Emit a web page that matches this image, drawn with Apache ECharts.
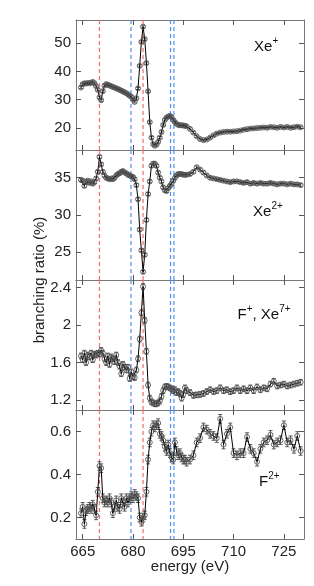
<!DOCTYPE html>
<html>
<head>
<meta charset="utf-8">
<script src="https://cdn.jsdelivr.net/npm/echarts@6/dist/echarts.min.js"></script>
<style>
html,body{margin:0;padding:0;background:#fff;}
#chart{width:314px;height:586px;}
</style>
</head>
<body>
<div id="chart"></div>
<script>
const energy = [664.5,665,665.5,666,666.5,667,667.5,668,668.5,669,669.5,670,670.5,671,671.5,672,672.5,673,673.5,674,674.5,675,675.5,676,676.5,677,677.5,678,678.5,679,679.5,680,680.5,681,681.5,682,682.5,683,683.5,684,684.5,685,685.5,686,686.5,687,687.5,688,688.5,689,689.5,690,690.5,691,691.5,692,692.5,693,693.5,694,694.5,695,695.5,696,
697,698,699,700,701,702,703,704,705,706,707,708,709,710,711,712,713,714,715,716,717,718,719,720,721,722,723,724,725,726,727,728,729,730];

const xePlus = [34.3,35.5,35.8,35.7,35.9,35.8,36.0,36.3,35.8,34.8,33.5,30.8,29.8,33.0,35.0,35.5,35.3,35.0,34.8,34.5,34.3,34.0,33.8,33.5,33.2,32.9,32.6,32.3,31.9,31.4,31.0,30.0,29.2,30.5,34.0,42.0,50.5,55.9,51.5,43.0,33.0,22.0,16.5,14.2,13.6,14.0,15.0,16.5,18.5,21.0,22.8,23.6,24.0,24.2,23.8,22.8,22.0,21.4,21.0,20.9,20.9,20.8,20.7,20.5,
19.6,18.3,17.0,16.0,15.6,15.8,16.5,17.3,17.9,18.3,18.5,18.6,18.6,18.7,18.8,19.0,19.3,19.5,19.7,19.8,19.9,20.0,20.1,20.0,20.3,20.2,20.0,20.3,20.1,20.3,20.0,20.2,20.4,20.2];

const xe2Plus = [34.7,34.6,33.9,34.4,34.6,34.3,34.5,34.2,34.4,34.9,35.8,37.8,36.8,35.8,35.3,35.0,34.9,34.8,34.9,34.8,35.0,35.3,35.5,35.6,35.8,35.9,35.7,35.6,35.4,35.3,35.2,35.1,34.8,34.0,32.1,28.0,25.2,22.3,24.6,29.3,32.8,34.5,36.6,36.9,36.9,36.6,35.7,35.0,34.5,33.7,33.3,33.2,33.6,33.9,34.2,34.6,35.0,35.3,35.5,35.5,35.5,35.4,35.4,35.4,
35.5,35.8,36.4,36.1,35.7,35.3,35.0,34.9,34.8,34.7,34.6,34.5,34.4,34.5,34.5,34.4,34.3,34.4,34.2,34.3,34.2,34.3,34.2,34.2,34.3,34.2,34.1,34.2,34.2,34.1,34.2,34.1,34.1,34.0];

const fPlusXe7Plus = [1.67,1.63,1.70,1.60,1.68,1.66,1.70,1.63,1.69,1.68,1.70,1.69,1.73,1.70,1.64,1.60,1.67,1.58,1.66,1.64,1.61,1.68,1.60,1.56,1.48,1.58,1.55,1.52,1.55,1.43,1.50,1.45,1.44,1.52,1.64,1.85,2.13,2.41,2.05,1.72,1.36,1.22,1.18,1.17,1.16,1.16,1.17,1.19,1.24,1.30,1.34,1.345,1.34,1.33,1.32,1.30,1.31,1.28,1.29,1.27,1.22,1.26,1.33,1.30,
1.28,1.25,1.255,1.26,1.27,1.29,1.31,1.29,1.30,1.33,1.30,1.31,1.29,1.30,1.33,1.30,1.32,1.30,1.33,1.30,1.34,1.31,1.33,1.32,1.37,1.40,1.35,1.36,1.37,1.35,1.36,1.37,1.38,1.39];

const f2Plus = [0.22,0.25,0.17,0.23,0.24,0.25,0.24,0.26,0.24,0.21,0.32,0.44,0.43,0.29,0.27,0.28,0.27,0.29,0.27,0.22,0.25,0.28,0.25,0.24,0.29,0.27,0.25,0.29,0.27,0.29,0.30,0.29,0.31,0.30,0.29,0.20,0.18,0.20,0.21,0.32,0.47,0.55,0.60,0.63,0.62,0.63,0.64,0.59,0.58,0.56,0.53,0.51,0.54,0.50,0.48,0.47,0.55,0.51,0.49,0.50,0.48,0.47,0.47,0.46,
0.47,0.49,0.55,0.57,0.62,0.61,0.59,0.58,0.57,0.66,0.54,0.59,0.62,0.50,0.49,0.50,0.50,0.575,0.52,0.50,0.46,0.52,0.55,0.56,0.585,0.54,0.55,0.56,0.63,0.55,0.56,0.52,0.58,0.51];

const errXePlus = 0.4, errXe2Plus = 0.2, errFPlus = 0.03, errF2Plus = 0.02;

const xTicks = [665, 680, 695, 710, 725];
const yTicksXePlus = [20, 30, 40, 50];
const yTicksXe2Plus = [25, 30, 35];
const yTicksFPlus = [1.2, 1.6, 2, 2.4];
const yTicksF2Plus = [0.2, 0.4, 0.6];

const redLines = [670.0, 683.0];
const blueLines = [679.4, 691.2, 692.2];

const panels = [
  {vals: xePlus, err: errXePlus, ticks: yTicksXePlus, min: 12.1, max: 58.3, top: 20, height: 130},
  {vals: xe2Plus, err: errXe2Plus, ticks: yTicksXe2Plus, min: 21.2, max: 38.74, top: 150, height: 130},
  {vals: fPlusXe7Plus, err: errFPlus, ticks: yTicksFPlus, min: 1.094, max: 2.48, top: 280, height: 130},
  {vals: f2Plus, err: errF2Plus, ticks: yTicksF2Plus, min: 0.1, max: 0.701, top: 410, height: 129}
];

const FONT = '"Liberation Sans", Arial, Helvetica, sans-serif';
const axisLineStyle = {color: '#777', width: 1};
const tickStyle = {color: '#555', width: 1};

function vlineSeries(i, values, color) {
  return {
    type: 'custom', xAxisIndex: i * 2, yAxisIndex: i * 2, silent: true, z: 2, clip: true,
    data: values.map(v => [v]),
    renderItem: function (params, api) {
      const cs = params.coordSys;
      const x = api.coord([api.value(0), panels[i].min])[0];
      return {type: 'line', shape: {x1: x, y1: cs.y, x2: x, y2: cs.y + cs.height},
        style: {stroke: color, lineWidth: 1.2, lineDash: [4, 3]}};
    }
  };
}

const grid = [], xAxis = [], yAxis = [], series = [];
panels.forEach((p, i) => {
  grid.push({left: 76, right: 10, top: p.top, height: p.height});
  xAxis.push({gridIndex: i, type: 'value', min: 663, max: 731, position: 'bottom',
    axisLine: {show: true, onZero: false, lineStyle: axisLineStyle},
    axisTick: {show: true, inside: true, length: 5, customValues: xTicks, lineStyle: tickStyle},
    axisLabel: {show: i === 3, customValues: xTicks, fontSize: 15, color: '#222', fontFamily: FONT, margin: 5},
    splitLine: {show: false}});
  xAxis.push({gridIndex: i, type: 'value', min: 663, max: 731, position: 'top',
    axisLine: {show: true, onZero: false, lineStyle: axisLineStyle},
    axisTick: {show: true, inside: true, length: 5, customValues: xTicks, lineStyle: tickStyle},
    axisLabel: {show: false}, splitLine: {show: false}});
  yAxis.push({gridIndex: i, type: 'value', min: p.min, max: p.max, position: 'left',
    axisLine: {show: true, onZero: false, lineStyle: axisLineStyle},
    axisTick: {show: true, inside: true, length: 5, customValues: p.ticks, lineStyle: tickStyle},
    axisLabel: {show: true, customValues: p.ticks, fontSize: 15, color: '#222', fontFamily: FONT, margin: 5},
    splitLine: {show: false}});
  yAxis.push({gridIndex: i, type: 'value', min: p.min, max: p.max, position: 'right',
    axisLine: {show: true, onZero: false, lineStyle: axisLineStyle},
    axisTick: {show: true, inside: true, length: 5, customValues: p.ticks, lineStyle: tickStyle},
    axisLabel: {show: false}, splitLine: {show: false}});

  series.push(vlineSeries(i, redLines, '#f26d6d'));
  series.push(vlineSeries(i, blueLines, '#4f8ff0'));

  const data = energy.map((e, k) => [e, p.vals[k]]);
  const errData = energy.map((e, k) => [e, p.vals[k], p.err]);

  series.push({
    type: 'custom', xAxisIndex: i * 2, yAxisIndex: i * 2, data: errData, silent: true, z: 3,
    renderItem: function (params, api) {
      const x = api.value(0), y = api.value(1), e = api.value(2);
      const a = api.coord([x, y + e]);
      const b = api.coord([x, y - e]);
      const st = {stroke: '#333', lineWidth: 0.8};
      return {type: 'group', children: [
        {type: 'line', shape: {x1: a[0], y1: a[1], x2: b[0], y2: b[1]}, style: st},
        {type: 'line', shape: {x1: a[0] - 2, y1: a[1], x2: a[0] + 2, y2: a[1]}, style: st},
        {type: 'line', shape: {x1: b[0] - 2, y1: b[1], x2: b[0] + 2, y2: b[1]}, style: st}
      ]};
    }
  });

  series.push({
    type: 'line', xAxisIndex: i * 2, yAxisIndex: i * 2, data: data,
    symbol: 'circle', symbolSize: 5, showAllSymbol: true, silent: true, z: 4,
    itemStyle: {color: 'rgba(255,255,255,0)', borderColor: '#555', borderWidth: 0.9},
    lineStyle: {color: '#000', width: 1},
    emphasis: {disabled: true}
  });
});

function txt(text, x, y, size) {
  return {type: 'text', x: x, y: y, silent: true,
    style: {text: text, fontSize: size, fontFamily: FONT, fill: '#111', align: 'left', verticalAlign: 'middle'}};
}

const graphic = [
  txt('Xe', 254, 47, 15), txt('+', 272.5, 41, 10),
  txt('Xe', 253, 212, 15), txt('2+', 271.5, 206, 10),
  txt('F', 237.5, 315, 15), txt('+', 246.7, 309, 10), txt(', Xe', 252.5, 315, 15), txt('7+', 279.2, 309, 10),
  txt('F', 259, 482, 15), txt('2+', 268.2, 476, 10),
  {type: 'text', x: 190, y: 567, silent: true,
    style: {text: 'energy (eV)', fontSize: 15, fontFamily: FONT, fill: '#222', align: 'center', verticalAlign: 'middle'}},
  {type: 'text', x: 40, y: 280, rotation: Math.PI / 2, silent: true,
    style: {text: 'branching ratio (%)', fontSize: 15, fontFamily: FONT, fill: '#222', align: 'center', verticalAlign: 'middle'}}
];

const chart = echarts.init(document.getElementById('chart'), null, {renderer: 'canvas'});
chart.setOption({
  animation: false,
  backgroundColor: '#fff',
  grid: grid, xAxis: xAxis, yAxis: yAxis, series: series, graphic: graphic
});
</script>
</body>
</html>
